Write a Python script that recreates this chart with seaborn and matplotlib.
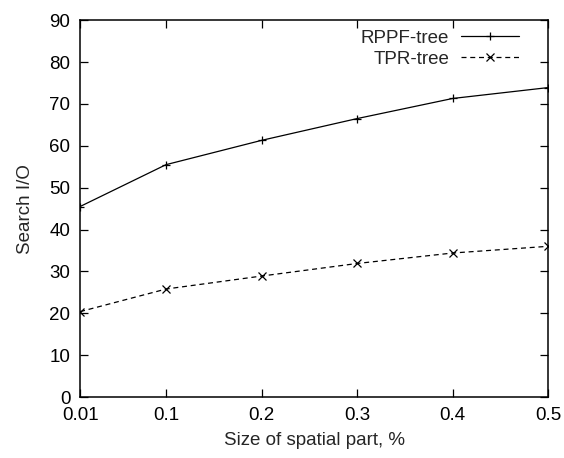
import matplotlib
matplotlib.use('Agg')

import pandas as pd
import matplotlib.pyplot as plt
import seaborn as sns

# du lieu doc tu hinh
sizes = [0.01, 0.1, 0.2, 0.3, 0.4, 0.5]
rppf_io = [45.5, 55.5, 61.3, 66.5, 71.3, 73.9]
tpr_io = [20.4, 25.8, 28.9, 31.9, 34.4, 36.0]
series_names = ['RPPF-tree', 'TPR-tree']

df = pd.DataFrame({
    'size': sizes * 2,
    'io': rppf_io + tpr_io,
    'tree': [series_names[0]] * len(sizes) + [series_names[1]] * len(sizes),
})

sns.set_style("ticks")
plt.rcParams['font.family'] = ['Liberation Sans', 'DejaVu Sans']

fig = plt.figure(figsize=(5.64, 4.58), dpi=100)
ax = fig.add_axes([0.142, 0.133, 0.830, 0.823])

sns.lineplot(data=df, x='size', y='io', hue='tree', style='tree',
             palette=['black', 'black'], markers=['+', 'x'],
             dashes=['', (4, 3)], linewidth=0.9,
             markersize=6, markeredgewidth=0.9, markeredgecolor='black',
             ax=ax)

ax.set_xlim(0.01, 0.5)
ax.set_ylim(0, 90)
ax.set_xticks(sizes)
ax.set_xticklabels(['0.01', '0.1', '0.2', '0.3', '0.4', '0.5'])
ax.set_yticks(range(0, 91, 10))
ax.tick_params(direction='in', length=6, width=0.9, top=True, right=True,
               labelsize=13.5, colors='black', pad=7)
for s in ax.spines.values():
    s.set_linewidth(1.1)
    s.set_color('black')

ax.set_xlabel('Size of spatial part, %', fontsize=13.5, labelpad=6)
ax.set_ylabel('Search I/O', fontsize=13.5, labelpad=11)

leg = ax.legend(loc='upper right', bbox_to_anchor=(0.953, 0.995),
                frameon=False, markerfirst=False, fontsize=13.5,
                handlelength=3.1, handletextpad=0.6, labelspacing=0.2,
                borderaxespad=0.0)
for h in leg.legend_handles:
    h.set_markeredgecolor('black')
    h.set_markersize(6)

fig.savefig('out.png', dpi=100)
